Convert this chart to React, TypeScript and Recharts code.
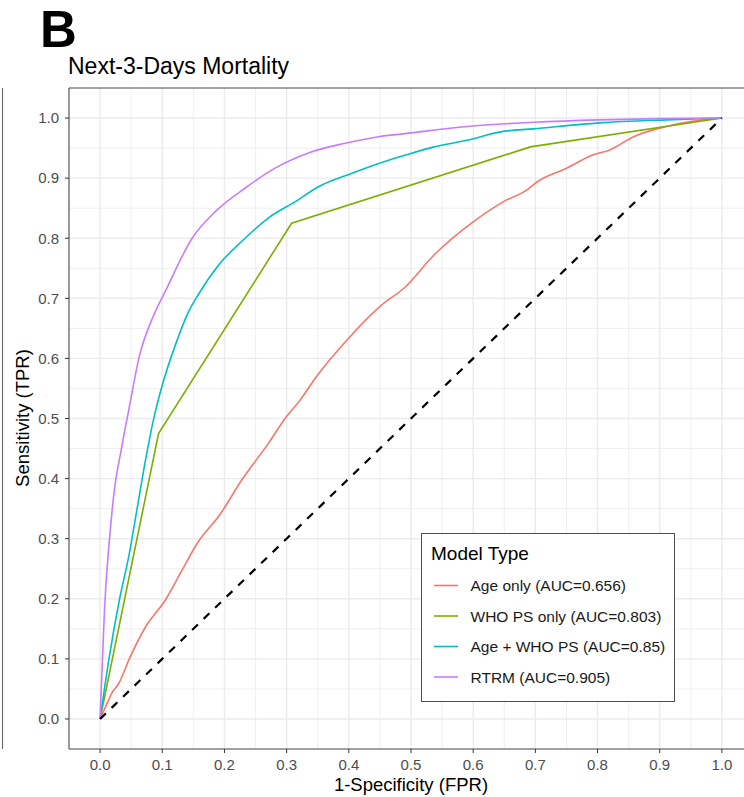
import { LineChart, Line, XAxis, YAxis, CartesianGrid, ReferenceLine } from 'recharts'

// ROC points: [fpr, tpr]
const ageOnly = [
  [0, 0], [0.01, 0.023], [0.02, 0.045], [0.03, 0.059], [0.047, 0.1], [0.073, 0.153],
  [0.105, 0.198], [0.132, 0.248], [0.156, 0.292], [0.194, 0.342], [0.228, 0.398],
  [0.271, 0.459], [0.298, 0.501], [0.322, 0.531], [0.346, 0.567], [0.4, 0.634],
  [0.453, 0.689], [0.49, 0.718], [0.537, 0.772], [0.601, 0.828], [0.649, 0.861],
  [0.686, 0.88], [0.703, 0.894], [0.751, 0.917], [0.793, 0.939], [0.82, 0.947],
  [0.858, 0.969], [0.911, 0.986], [0.949, 0.994], [1, 1],
]
const whoPsOnly = [
  [0, 0], [0.094, 0.475], [0.308, 0.825], [0.692, 0.952], [1, 1],
]
const ageWhoPs = [
  [0, 0], [0.014, 0.098], [0.031, 0.198], [0.047, 0.275], [0.06, 0.353], [0.074, 0.436],
  [0.087, 0.503], [0.101, 0.559], [0.122, 0.625], [0.141, 0.675], [0.159, 0.708],
  [0.191, 0.756], [0.228, 0.795], [0.271, 0.834], [0.314, 0.861], [0.352, 0.886],
  [0.405, 0.908], [0.459, 0.928], [0.49, 0.938], [0.537, 0.952], [0.59, 0.963],
  [0.644, 0.977], [0.697, 0.982], [0.804, 0.992], [0.911, 0.997], [1, 1],
]
const rtrm = [
  [0, 0], [0.004, 0.104], [0.007, 0.18], [0.015, 0.298], [0.023, 0.381], [0.034, 0.448],
  [0.047, 0.519], [0.063, 0.603], [0.085, 0.669], [0.106, 0.714], [0.148, 0.8],
  [0.186, 0.845], [0.234, 0.884], [0.282, 0.917], [0.335, 0.942], [0.394, 0.958],
  [0.448, 0.969], [0.49, 0.974], [0.59, 0.986], [0.697, 0.993], [0.804, 0.997],
  [0.9, 0.999], [1, 1],
]

const seriesNames = [
  'Age only (AUC=0.656)',
  'WHO PS only (AUC=0.803)',
  'Age + WHO PS (AUC=0.85)',
  'RTRM (AUC=0.905)',
]
const seriesColors = ['#F8766D', '#7CAE00', '#00BFC4', '#C77CFF']
const seriesPoints = [ageOnly, whoPsOnly, ageWhoPs, rtrm]
const seriesCurve = ['monotoneX', 'linear', 'monotoneX', 'monotoneX']

const majorBreaks = [0, 0.1, 0.2, 0.3, 0.4, 0.5, 0.6, 0.7, 0.8, 0.9, 1]
const minorBreaks = [-0.05, 0.05, 0.15, 0.25, 0.35, 0.45, 0.55, 0.65, 0.75, 0.85, 0.95, 1.05]

const FONT = '"Liberation Sans", Arial, sans-serif'
const tickStyle = { fontSize: 15, fill: '#4d4d4d', fontFamily: FONT }

function LegendBox() {
  return (
    <g transform="translate(421 533)">
      <rect x={0.5} y={0.5} width={253} height={168} fill="#fff" stroke="#4d4d4d" strokeWidth={1} />
      <text x={10} y={26.5} fontSize={19} fontFamily={FONT} fill="#000">Model Type</text>
      {seriesNames.map((name, i) => (
        <g key={name}>
          <line x1={13} x2={37} y1={52.5 + i * 30.5} y2={52.5 + i * 30.5} stroke={seriesColors[i]} strokeWidth={1.6} />
          <text x={49.5} y={58 + i * 30.5} fontSize={15.5} fontFamily={FONT} fill="#1a1a1a">{name}</text>
        </g>
      ))}
    </g>
  )
}

export default function App() {
  return (
    <div style={{ position: 'absolute', left: 0, top: 0, width: 744, height: 797, overflow: 'hidden', background: '#fff' }}>
      <LineChart width={760} height={797} margin={{ top: 88, right: 7, bottom: 0, left: 0 }}>
        <CartesianGrid verticalValues={minorBreaks} horizontalValues={minorBreaks} stroke="#EBEBEB" strokeWidth={0.8} />
        <CartesianGrid verticalValues={majorBreaks} horizontalValues={majorBreaks} stroke="#EBEBEB" strokeWidth={1.4} />
        <XAxis
          type="number"
          dataKey="fpr"
          domain={[-0.05, 1.05]}
          ticks={majorBreaks}
          tickFormatter={(v: number) => v.toFixed(1)}
          allowDataOverflow
          height={48}
          tickSize={4}
          tickMargin={6}
          tick={tickStyle}
          tickLine={{ stroke: '#333' }}
          axisLine={{ stroke: '#4d4d4d', strokeWidth: 1.1 }}
        />
        <YAxis
          type="number"
          dataKey="tpr"
          domain={[-0.05, 1.05]}
          ticks={majorBreaks}
          tickFormatter={(v: number) => v.toFixed(1)}
          allowDataOverflow
          width={69}
          tickSize={4}
          tickMargin={6}
          tick={tickStyle}
          tickLine={{ stroke: '#333' }}
          axisLine={{ stroke: '#4d4d4d', strokeWidth: 1.1 }}
        />
        <ReferenceLine y={1.05} stroke="#4d4d4d" strokeWidth={1.1} />
        {seriesPoints.map((pts, i) => (
          <Line
            key={seriesNames[i]}
            name={seriesNames[i]}
            data={pts.map(([fpr, tpr]) => ({ fpr, tpr }))}
            dataKey="tpr"
            type={seriesCurve[i] as any}
            stroke={seriesColors[i]}
            strokeWidth={1.6}
            dot={false}
            activeDot={false}
            isAnimationActive={false}
          />
        ))}
        <ReferenceLine
          segment={[{ x: 0, y: 0 }, { x: 1, y: 1 }]}
          stroke="#000"
          strokeWidth={2.2}
          strokeDasharray="8 8"
        />
      </LineChart>
      <svg width={744} height={797} style={{ position: 'absolute', left: 0, top: 0, pointerEvents: 'none' }}>
        <text x={40} y={46.7} fontSize={51} fontWeight="bold" fontFamily={FONT} fill="#000">B</text>
        <text x={68} y={74} fontSize={23} fontFamily={FONT} fill="#000">Next-3-Days Mortality</text>
        <text x={411} y={791} fontSize={18.5} fontFamily={FONT} fill="#000" textAnchor="middle">1-Specificity (FPR)</text>
        <text transform="translate(28.5 418) rotate(-90)" fontSize={18.5} fontFamily={FONT} fill="#000" textAnchor="middle">Sensitivity (TPR)</text>
        <line x1={2.5} x2={2.5} y1={88} y2={749} stroke="#666" strokeWidth={1.1} />
        <LegendBox />
      </svg>
    </div>
  )
}
